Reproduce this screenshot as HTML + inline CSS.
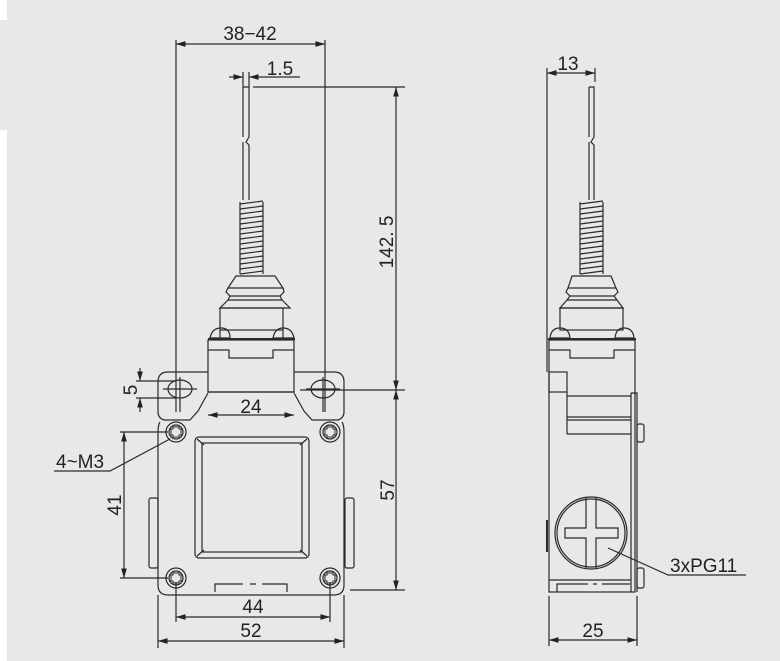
<!DOCTYPE html>
<html><head><meta charset="utf-8"><style>
html,body{margin:0;padding:0;background:#e8e8e8;}
svg{display:block;}
text{font-family:"Liberation Sans",sans-serif;fill:#222;font-size:19px;}
</style></head><body>
<svg width="780" height="661" viewBox="0 0 780 661" xmlns="http://www.w3.org/2000/svg">
<defs>
<marker id="a" viewBox="0 0 10 6" refX="10" refY="3" markerWidth="8" markerHeight="5" orient="auto-start-reverse"><path d="M0,0 L10,3 L0,6 z" fill="#222"/></marker>
</defs>
<rect width="780" height="661" fill="#e8e8e8"/>
<rect x="0" y="0" width="7" height="20" fill="#fff"/>
<rect x="0" y="130" width="7" height="531" fill="#fff"/>
<g fill="none" stroke="#2a2a2a" stroke-width="1.2">
<line x1="176" y1="40" x2="176" y2="412"/>
<line x1="325" y1="40" x2="325" y2="412"/>
<line x1="176" y1="44" x2="325" y2="44" marker-start="url(#a)" marker-end="url(#a)"/>
<line x1="243" y1="72" x2="243" y2="87"/><line x1="249" y1="72" x2="249" y2="87"/>
<line x1="229" y1="77" x2="243" y2="77" marker-end="url(#a)"/>
<line x1="300" y1="77" x2="249" y2="77" marker-end="url(#a)"/>
<line x1="253" y1="87" x2="405" y2="87"/>
<line x1="396" y1="87" x2="396" y2="390" marker-start="url(#a)" marker-end="url(#a)"/>
<line x1="396" y1="390" x2="396" y2="590" marker-start="url(#a)" marker-end="url(#a)"/>
<line x1="300" y1="390" x2="405" y2="390"/>
<line x1="350" y1="590" x2="405" y2="590"/>
<path d="M243,87 L249,87 L249,137 L246,142 L249,145 L249,200 M243,87 L243,137 M243,142 L243,200"/>
<path d="M240,202 L240,274 M263,202 L263,274"/>
<g stroke-width="1.2">
<path d="M240,204 L263,201 M240,209 L263,206 M240,214 L263,211 M240,219 L263,216 M240,224 L263,221 M240,229 L263,226 M240,234 L263,231 M240,239 L263,236 M240,244 L263,241 M240,249 L263,246 M240,254 L263,251 M240,259 L263,256 M240,264 L263,261 M240,269 L263,266 M240,274 L263,271"/>
</g>
<path d="M236,276 L275,276 L283,288 L228,288 Z"/>
<path d="M228,288 L226,292 L230,296 L280,296 L284,292 L283,288"/>
<path d="M230,296 L228,300 L282,300 L280,296"/>
<path d="M228,300 L220,308 L290,308 L282,300"/>
<rect x="220" y="308" width="63" height="22"/>
<path d="M210,338 Q212,328 221,328 Q230,328 230,338 Z M273,338 Q275,328 283,328 Q292,328 294,338 Z"/>
<line x1="220" y1="330" x2="220" y2="338"/><line x1="283" y1="330" x2="283" y2="338"/>
<line x1="208" y1="339" x2="295" y2="339" stroke-width="2"/>
<rect x="208" y="340" width="86" height="52"/>
<path d="M208,350 L229,350 L229,358 L273,358 L273,350 L294,350"/>
<path d="M208,372 L168,372 Q158,372 158,382 L158,412 Q158,418 164,420 L190,420 L198,411 L208,393"/>
<path d="M294,372 L334,372 Q344,372 344,382 L344,412 Q344,418 338,420 L312,420 L304,411 L294,393"/>
<path d="M160,422 Q158,425 158,432 L158,585 Q158,595 168,595 L334,595 Q344,595 344,585 L344,432 Q344,425 342,422"/>
<line x1="208" y1="392" x2="294" y2="392"/>
<line x1="208" y1="415" x2="294" y2="415" marker-start="url(#a)" marker-end="url(#a)"/>
<ellipse cx="180" cy="389" rx="12" ry="9"/>
<ellipse cx="323" cy="389" rx="12" ry="9"/>
<line x1="163" y1="389" x2="197" y2="389"/><line x1="306" y1="389" x2="340" y2="389"/>
<line x1="180" y1="377" x2="180" y2="412"/><line x1="323" y1="377" x2="323" y2="412"/>
<line x1="136" y1="381" x2="176" y2="381"/><line x1="136" y1="398" x2="176" y2="398"/>
<line x1="140" y1="368" x2="140" y2="381" marker-end="url(#a)"/>
<line x1="140" y1="412" x2="140" y2="398" marker-end="url(#a)"/>
<g id="s">
<circle cx="176" cy="432" r="10"/><circle cx="176" cy="432" r="7"/>
<path d="M173,429 L173,427 L179,427 L179,429 L181,429 L181,435 L179,435 L179,437 L173,437 L173,435 L171,435 L171,429 Z" stroke-width="1"/>
</g>
<use href="#s" x="154" y="0"/><use href="#s" x="0" y="146"/><use href="#s" x="154" y="146"/>
<rect x="195" y="437" width="114" height="121" rx="4"/>
<rect x="202" y="443" width="100" height="109"/>
<path d="M197,439 L204,445 M307,439 L300,445 M197,556 L204,550 M307,556 L300,550"/>
<rect x="149" y="498" width="9" height="70" rx="2"/>
<rect x="345" y="498" width="9" height="70" rx="2"/>
<path d="M215,592 L215,584 L243,584 M250,584 L256,584 M262,584 L287,584 L287,592"/>
<line x1="120" y1="432" x2="168" y2="432"/><line x1="120" y1="578" x2="168" y2="578"/>
<line x1="124" y1="432" x2="124" y2="578" marker-start="url(#a)" marker-end="url(#a)"/>
<path d="M54,471 L110,471 L170,439"/>
<line x1="176" y1="582" x2="176" y2="622"/><line x1="330" y1="582" x2="330" y2="622"/>
<line x1="176" y1="617" x2="330" y2="617" marker-start="url(#a)" marker-end="url(#a)"/>
<line x1="158" y1="595" x2="158" y2="648"/><line x1="344" y1="595" x2="344" y2="648"/>
<line x1="158" y1="641" x2="344" y2="641" marker-start="url(#a)" marker-end="url(#a)"/>

<line x1="547" y1="68" x2="547" y2="372"/>
<line x1="595" y1="68" x2="595" y2="82"/>
<line x1="547" y1="73" x2="595" y2="73" marker-start="url(#a)" marker-end="url(#a)"/>
<path d="M589,87 L594,87 L594,137 L591,142 L594,145 L594,200 M589,87 L589,137 M589,142 L589,200"/>
<path d="M580,202 L580,274 M603,202 L603,274"/>
<g stroke-width="1.2">
<path d="M580,204 L603,201 M580,209 L603,206 M580,214 L603,211 M580,219 L603,216 M580,224 L603,221 M580,229 L603,226 M580,234 L603,231 M580,239 L603,236 M580,244 L603,241 M580,249 L603,246 M580,254 L603,251 M580,259 L603,256 M580,264 L603,261 M580,269 L603,266 M580,274 L603,271"/>
</g>
<path d="M572,276 L611,276 L616,288 L568,288 Z"/>
<path d="M568,288 L566,292 L570,296 L614,296 L618,292 L616,288"/>
<path d="M570,296 L567,300 L617,300 L614,296"/>
<path d="M567,300 L560,308 L623,308 L617,300"/>
<rect x="560" y="308" width="63" height="22"/>
<path d="M550,338 Q551,328 560,328 Q569,328 570,338 Z M615,338 Q616,328 624,328 Q633,328 634,338 Z"/>
<line x1="548" y1="339" x2="636" y2="339" stroke-width="2"/>
<rect x="549" y="340" width="86" height="252"/>
<path d="M549,350 L570,350 L570,358 L614,358 L614,350 L635,350"/>
<rect x="549" y="372" width="18" height="20"/>
<path d="M567,392 L567,434 M567,396 L631,396 M567,417 L631,417 M567,420 L631,420 M567,434 L631,434"/>
<path d="M631,393 L637,393 L637,592 M631,393 L631,592"/>
<rect x="637" y="424" width="7" height="18" rx="2"/>
<rect x="637" y="568" width="7" height="20" rx="2"/>
<line x1="547" y1="520" x2="547" y2="552" stroke-width="2"/>
<circle cx="591" cy="533" r="36"/><circle cx="591" cy="533" r="34"/>
<path d="M586,498 L586,528 L565,528 L565,538 L586,538 L586,568 M596,498 L596,528 L618,528 L618,538 L596,538 L596,568"/>
<path d="M608,548 L668,575 L746,575"/>
<line x1="549" y1="580" x2="631" y2="580"/>
<path d="M557,592 L557,584 L588,584 M593,584 L597,584 M602,584 L630,584"/>
<line x1="549" y1="596" x2="549" y2="646"/><line x1="637" y1="596" x2="637" y2="646"/>
<line x1="549" y1="640" x2="637" y2="640" marker-start="url(#a)" marker-end="url(#a)"/>
</g>
<text x="250" y="40" text-anchor="middle">38−42</text>
<text x="280" y="75" text-anchor="middle">1.5</text>
<text x="568" y="70" text-anchor="middle">13</text>
<text transform="translate(393,242) rotate(-90)" text-anchor="middle">142. 5</text>
<text transform="translate(394,490) rotate(-90)" text-anchor="middle">57</text>
<text transform="translate(137,390) rotate(-90)" text-anchor="middle">5</text>
<text transform="translate(121,505) rotate(-90)" text-anchor="middle">41</text>
<text x="251" y="413" text-anchor="middle">24</text>
<text x="56" y="468">4~M3</text>
<text x="253" y="613" text-anchor="middle">44</text>
<text x="251" y="637" text-anchor="middle">52</text>
<text x="593" y="637" text-anchor="middle">25</text>
<text x="670" y="572">3xPG11</text>
</svg>
</body></html>
